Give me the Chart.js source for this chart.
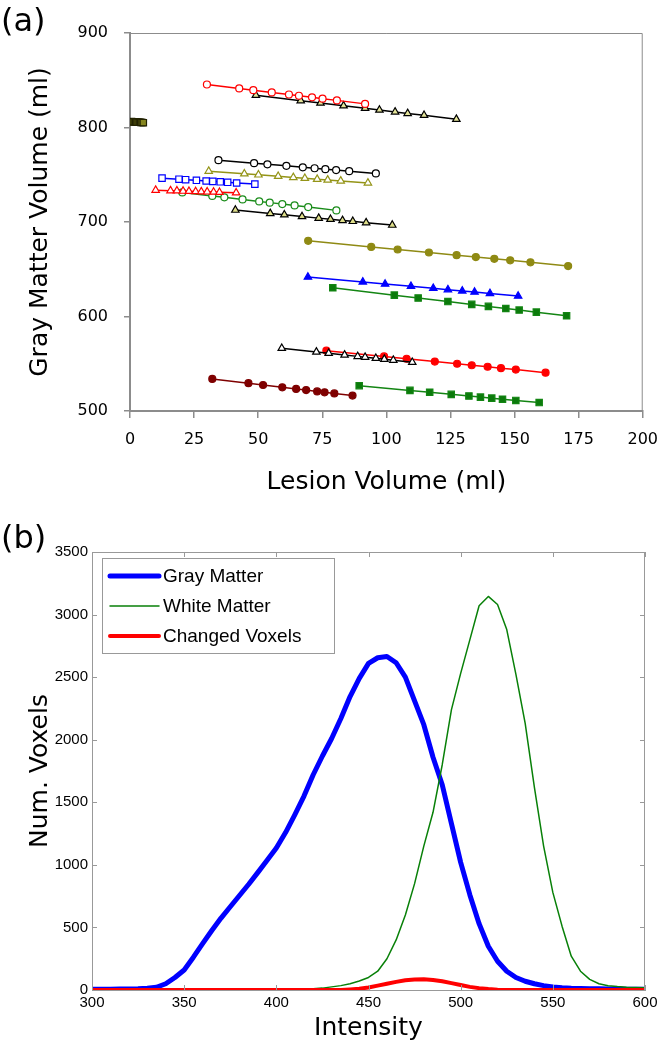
<!DOCTYPE html>
<html>
<head>
<meta charset="utf-8">
<script src="https://cdn.jsdelivr.net/npm/chart.js@4.4.0/dist/chart.umd.min.js"></script>
<style>
  html, body { margin: 0; padding: 0; background: #fff; }
  #wrapA { position: absolute; left: 0; top: 0; width: 670px; height: 520px; }
  #wrapB { position: absolute; left: 0; top: 520px; width: 670px; height: 530px; }
</style>
</head>
<body>
<div id="wrapA"><canvas id="chartA" width="670" height="520"></canvas></div>
<div id="wrapB"><canvas id="chartB" width="670" height="530"></canvas></div>
<script>
// ---------- panel (a): gray matter volume vs lesion volume ----------
const lesionTicks = [0, 25, 50, 75, 100, 125, 150, 175, 200];
const gmTicks = [500, 600, 700, 800, 900];

const redOpenCircleX = [30, 42.6, 48.1, 55.3, 62, 65.9, 71, 75.1, 80.7, 91.7];
const redOpenCircleY = [845.5, 841.3, 839.5, 837.1, 834.9, 833.6, 831.9, 830.5, 828.7, 825];
const blackTriTopX = [49.1, 66.6, 74.3, 83.3, 91.7, 97.3, 103.4, 108.3, 114.7, 127.3];
const blackTriTopY = [834.1, 828.4, 825.9, 823.0, 820.3, 818.5, 816.5, 814.9, 812.9, 808.8];
const oliveSquareX = [0.6, 1.2, 1.7, 2.2, 2.7, 3.2, 3.7, 4.2, 4.7, 5.2];
const oliveSquareY = [806.2, 806.0, 805.9, 805.8, 805.7, 805.6, 805.5, 805.4, 805.3, 805.1];
const blackOpenCircleX = [34.5, 48.4, 53.6, 61.0, 67.4, 72.0, 76.2, 80.4, 85.5, 95.9];
const blackOpenCircleY = [765.4, 762.2, 761.0, 759.4, 757.9, 756.9, 755.9, 754.9, 753.8, 751.4];
const oliveOpenTriX = [30.7, 44.6, 50.1, 57.8, 63.7, 68.2, 73.0, 77.1, 82.2, 92.8];
const oliveOpenTriY = [753.8, 751.0, 749.9, 748.4, 747.2, 746.3, 745.3, 744.5, 743.5, 741.4];
const blueOpenSquareX = [12.5, 19.1, 21.7, 25.9, 29.7, 32.3, 35.2, 38.1, 41.6, 48.7];
const blueOpenSquareY = [746.4, 745.3, 744.8, 744.1, 743.4, 743.0, 742.5, 742.0, 741.3, 740.1];
const redOpenTriX = [10.0, 15.8, 18.3, 20.7, 23.0, 25.6, 27.8, 30.1, 32.6, 34.9, 41.4];
const redOpenTriY = [733.7, 733.2, 733.0, 732.7, 732.5, 732.3, 732.1, 731.9, 731.7, 731.5, 730.9];
const greenOpenCircleX = [20.4, 32.1, 36.8, 43.9, 50.4, 54.5, 59.4, 64.2, 69.5, 80.5];
const greenOpenCircleY = [731.3, 727.6, 726.1, 723.9, 721.8, 720.5, 719.0, 717.5, 715.8, 712.3];
const blackTriMidX = [41.1, 54.7, 60.2, 67.1, 73.6, 78.2, 82.9, 86.9, 92.1, 102.3];
const blackTriMidY = [712.6, 709.1, 707.6, 705.8, 704.1, 702.9, 701.7, 700.7, 699.3, 696.7];
const oliveCircleX = [69.5, 94.1, 104.4, 116.6, 127.4, 134.9, 142.1, 148.3, 156.2, 170.9];
const oliveCircleY = [680.1, 673.6, 670.9, 667.7, 664.9, 662.9, 661.0, 659.4, 657.3, 653.4];
const blueTriX = [69.4, 90.8, 99.5, 109.6, 118.3, 124.0, 129.6, 134.4, 140.4, 151.4];
const blueTriY = [641.8, 636.6, 634.4, 631.9, 629.8, 628.4, 627.1, 625.9, 624.4, 621.7];
const greenSquareTopX = [79.1, 103.1, 112.4, 124.0, 133.3, 139.8, 146.6, 151.8, 158.5, 170.3];
const greenSquareTopY = [630.4, 622.6, 619.6, 615.8, 612.8, 610.7, 608.5, 606.8, 604.6, 600.8];
const blackTriLowX = [59.2, 72.7, 77.5, 83.7, 88.8, 91.7, 95.9, 99.2, 102.7, 110.1];
const blackTriLowY = [566.4, 562.5, 561.1, 559.3, 557.8, 557.0, 555.8, 554.8, 553.8, 551.6];
const redCircleX = [76.6, 99.1, 107.9, 118.9, 127.6, 133.3, 139.5, 144.7, 150.5, 162.1];
const redCircleY = [563.8, 557.7, 555.3, 552.3, 550.0, 548.4, 546.8, 545.3, 543.8, 540.6];
const greenSquareLowX = [89.4, 109.2, 116.9, 125.3, 132.2, 136.7, 141.1, 145.3, 150.5, 159.6];
const greenSquareLowY = [526.8, 521.8, 519.8, 517.6, 515.9, 514.7, 513.6, 512.5, 511.2, 508.9];
const maroonCircleX = [32.1, 46.2, 51.9, 59.4, 64.8, 68.7, 73.0, 75.9, 79.7, 86.8];
const maroonCircleY = [533.9, 529.4, 527.5, 525.1, 523.4, 522.1, 520.7, 519.8, 518.6, 516.3];

// ---------- panel (b): intensity histograms ----------
const intensity = [300, 305, 310, 315, 320, 325, 330, 335, 340, 345,
  350, 355, 360, 365, 370, 375, 380, 385, 390, 395,
  400, 405, 410, 415, 420, 425, 430, 435, 440, 445,
  450, 455, 460, 465, 470, 475, 480, 485, 490, 495,
  500, 505, 510, 515, 520, 525, 530, 535, 540, 545,
  550, 555, 560, 565, 570, 575, 580, 585, 590, 595, 600];
const grayMatter = [5, 5, 6, 8, 8, 10, 15, 22, 50, 100,
  160, 262, 370, 475, 575, 665, 755, 845, 940, 1037,
  1135, 1258, 1400, 1550, 1720, 1870, 2010, 2170, 2345, 2490,
  2610, 2655, 2665, 2615, 2500, 2310, 2120, 1860, 1640, 1330,
  1020, 760, 530, 350, 230, 150, 100, 70, 50, 35,
  25, 18, 14, 12, 10, 9, 8, 7, 6, 5, 5];
const whiteMatter = [0, 0, 0, 0, 0, 0, 0, 0, 0, 0,
  0, 0, 0, 0, 0, 0, 0, 0, 0, 0,
  3, 4, 5, 7, 10, 15, 25, 35, 50, 72,
  100, 150, 250, 400, 600, 850, 1150, 1420, 1800, 2240,
  2530, 2800, 3070, 3145, 3080, 2880, 2520, 2130, 1620, 1150,
  780, 510, 270, 150, 85, 50, 34, 27, 22, 19, 17];
const changedVoxels = [0, 0, 0, 0, 0, 0, 0, 0, 0, 0,
  0, 0, 0, 0, 0, 0, 0, 0, 0, 0,
  0, 0, 0, 0, 0, 0, 0, 0, 5, 10,
  20, 35, 50, 65, 78, 83, 85, 80, 70, 55,
  40, 25, 15, 8, 3, 0, 0, 0, 0, 0,
  0, 0, 0, 0, 0, 0, 0, 0, 0, 0, 0];
const voxelTicks = [0, 500, 1000, 1500, 2000, 2500, 3000, 3500];
const intensityTicks = [300, 350, 400, 450, 500, 550, 600];

// frame (top/right box), inward ticks and the (a)/(b) label
const framePlugin = {
  id: 'frame',
  afterDraw(chart, args, o) {
    const { ctx, chartArea: a } = chart;
    ctx.save();
    ctx.strokeStyle = o.color;
    ctx.lineWidth = o.width;
    ctx.beginPath();
    ctx.moveTo(a.left, a.top + 0.5);
    ctx.lineTo(a.right - 0.5, a.top + 0.5);
    ctx.lineTo(a.right - 0.5, a.bottom);
    ctx.stroke();
    if (o.inwardTicks) {
      const xs = chart.scales.x, ys = chart.scales.y, L = 5;
      ctx.lineWidth = 1;
      ctx.beginPath();
      xs.ticks.forEach(t => {
        const p = Math.round(xs.getPixelForValue(t.value)) + 0.5;
        ctx.moveTo(p, a.bottom); ctx.lineTo(p, a.bottom - L);
        ctx.moveTo(p, a.top); ctx.lineTo(p, a.top + L);
      });
      ys.ticks.forEach(t => {
        const p = Math.round(ys.getPixelForValue(t.value)) + 0.5;
        ctx.moveTo(a.left, p); ctx.lineTo(a.left + L, p);
        ctx.moveTo(a.right, p); ctx.lineTo(a.right - L, p);
      });
      ctx.stroke();
    }
    ctx.fillStyle = '#000';
    ctx.font = '32px "DejaVu Sans"';
    ctx.textBaseline = 'alphabetic';
    ctx.fillText(o.label, o.labelX, o.labelY);
    ctx.restore();
  }
};

// legend box inside the plot area of panel (b)
const legendBoxPlugin = {
  id: 'legendBox',
  afterDraw(chart) {
    const { ctx, chartArea: a } = chart;
    const x0 = a.left + 10, y0 = a.top + 6;
    ctx.save();
    ctx.fillStyle = '#fff';
    ctx.fillRect(x0, y0, 232, 95);
    ctx.strokeStyle = '#999';
    ctx.lineWidth = 1;
    ctx.strokeRect(x0 + 0.5, y0 + 0.5, 232, 95);
    chart.data.datasets.forEach((ds, i) => {
      const y = y0 + 18 + i * 30;
      ctx.strokeStyle = ds.borderColor;
      ctx.lineWidth = ds.borderWidth;
      ctx.lineCap = 'round';
      ctx.beginPath(); ctx.moveTo(x0 + 8, y); ctx.lineTo(x0 + 57, y); ctx.stroke();
      ctx.fillStyle = '#000';
      ctx.font = '19px "Liberation Sans"';
      ctx.textBaseline = 'middle';
      ctx.fillText(ds.label, x0 + 61, y + 1);
    });
    ctx.restore();
  }
};

function pairs(xs, ys) { return xs.map((v, i) => ({ x: v, y: ys[i] })); }

const seriesA = [
  { x: redOpenCircleX, y: redOpenCircleY, line: '#ff0000', edge: '#ff0000', fill: '#ffffff', shape: 'circle' },
  { x: blackTriTopX, y: blackTriTopY, line: '#000000', edge: '#000000', fill: '#e4e49a', shape: 'triangle' },
  { x: oliveSquareX, y: oliveSquareY, line: '#4d4d10', edge: '#222200', fill: '#85851f', shape: 'rect' },
  { x: blackOpenCircleX, y: blackOpenCircleY, line: '#000000', edge: '#000000', fill: '#ffffff', shape: 'circle' },
  { x: oliveOpenTriX, y: oliveOpenTriY, line: '#949417', edge: '#949417', fill: '#ffffff', shape: 'triangle' },
  { x: blueOpenSquareX, y: blueOpenSquareY, line: '#0000ff', edge: '#0000ff', fill: '#ffffff', shape: 'rect' },
  { x: redOpenTriX, y: redOpenTriY, line: '#ff0000', edge: '#ff0000', fill: '#ffffff', shape: 'triangle' },
  { x: greenOpenCircleX, y: greenOpenCircleY, line: '#1a8c1a', edge: '#1a8c1a', fill: '#ffffff', shape: 'circle' },
  { x: blackTriMidX, y: blackTriMidY, line: '#000000', edge: '#000000', fill: '#dede8a', shape: 'triangle' },
  { x: oliveCircleX, y: oliveCircleY, line: '#8f8a14', edge: '#8f8a14', fill: '#8f8a14', shape: 'circle' },
  { x: blueTriX, y: blueTriY, line: '#0000ff', edge: '#0000ff', fill: '#0000ff', shape: 'triangle' },
  { x: greenSquareTopX, y: greenSquareTopY, line: '#138513', edge: '#138513', fill: '#0b7a0b', shape: 'rect' },
  { x: blackTriLowX, y: blackTriLowY, line: '#000000', edge: '#000000', fill: '#ffffff', shape: 'triangle' },
  { x: redCircleX, y: redCircleY, line: '#ff0000', edge: '#ff0000', fill: '#ff0000', shape: 'circle' },
  { x: greenSquareLowX, y: greenSquareLowY, line: '#138513', edge: '#138513', fill: '#0b7a0b', shape: 'rect' },
  { x: maroonCircleX, y: maroonCircleY, line: '#7f0000', edge: '#7f0000', fill: '#7f0000', shape: 'circle' }
];

const radiusFor = { circle: 3.5, triangle: 4.3, rect: 4.5 };
const plainNumber = v => String(v);

new Chart(document.getElementById('chartA'), {
  type: 'scatter',
  data: {
    datasets: seriesA.map(s => ({
      data: pairs(s.x, s.y),
      showLine: true,
      borderColor: s.line,
      borderWidth: 1.5,
      pointStyle: s.shape,
      pointRadius: radiusFor[s.shape],
      pointBackgroundColor: s.fill,
      pointBorderColor: s.edge,
      pointBorderWidth: 1.2
    }))
  },
  options: {
    responsive: false,
    animation: false,
    layout: { padding: { left: 0, right: 24, top: 33, bottom: 0 } },
    plugins: {
      legend: { display: false },
      tooltip: { enabled: false },
      frame: { color: '#8c8c8c', width: 1, label: '(a)', labelX: 1, labelY: 31 }
    },
    scales: {
      x: {
        type: 'linear', min: 0, max: 200,
        afterBuildTicks: s => { s.ticks = lesionTicks.map(v => ({ value: v })); },
        afterFit: s => { s.height = 109; },
        ticks: { font: { family: 'DejaVu Sans', size: 16 }, color: '#000', padding: 12, maxRotation: 0, callback: plainNumber },
        grid: { display: true, drawOnChartArea: false, drawTicks: true, tickLength: 7, color: '#8c8c8c', lineWidth: 1.5 },
        border: { display: true, color: '#8c8c8c', width: 2 },
        title: { display: true, text: 'Lesion Volume (ml)', color: '#000',
                 font: { family: 'DejaVu Sans', size: 25 }, padding: { top: 0, bottom: 23 } }
      },
      y: {
        type: 'linear', min: 500, max: 900,
        afterBuildTicks: s => { s.ticks = gmTicks.map(v => ({ value: v })); },
        afterFit: s => { s.width = 130; },
        ticks: { font: { family: 'DejaVu Sans', size: 16 }, color: '#000', padding: 16, callback: plainNumber },
        grid: { display: true, drawOnChartArea: false, drawTicks: true, tickLength: 6, color: '#8c8c8c', lineWidth: 1.5 },
        border: { display: true, color: '#8c8c8c', width: 2 },
        title: { display: true, text: 'Gray Matter Volume (ml)', color: '#000',
                 font: { family: 'DejaVu Sans', size: 25 }, padding: { top: 25, bottom: 0 } }
      }
    }
  },
  plugins: [framePlugin]
});

new Chart(document.getElementById('chartB'), {
  type: 'scatter',
  data: {
    datasets: [
      { label: 'Gray Matter', data: pairs(intensity, grayMatter), borderColor: '#0000ff', borderWidth: 5, order: 3 },
      { label: 'White Matter', data: pairs(intensity, whiteMatter), borderColor: '#088008', borderWidth: 1.5, order: 2 },
      { label: 'Changed Voxels', data: pairs(intensity, changedVoxels), borderColor: '#ff0000', borderWidth: 4, order: 1 }
    ].map(d => Object.assign(d, { showLine: true, pointRadius: 0, borderJoinStyle: 'round', tension: 0 }))
  },
  options: {
    responsive: false,
    animation: false,
    layout: { padding: { left: 0, right: 25, top: 32, bottom: 0 } },
    plugins: {
      legend: { display: false },
      tooltip: { enabled: false },
      frame: { color: '#999999', width: 1, inwardTicks: true, label: '(b)', labelX: 1, labelY: 28 }
    },
    scales: {
      x: {
        type: 'linear', min: 300, max: 600,
        afterBuildTicks: s => { s.ticks = intensityTicks.map(v => ({ value: v })); },
        afterFit: s => { s.height = 60; },
        ticks: { font: { family: 'Liberation Sans', size: 15 }, color: '#000', padding: 4, maxRotation: 0, callback: plainNumber },
        grid: { display: false, drawTicks: false },
        border: { display: true, color: '#999999', width: 1 },
        title: { display: true, text: 'Intensity', color: '#000',
                 font: { family: 'DejaVu Sans', size: 25 }, padding: { top: 0, bottom: 7 } }
      },
      y: {
        type: 'linear', min: 0, max: 3500,
        afterBuildTicks: s => { s.ticks = voxelTicks.map(v => ({ value: v })); },
        afterFit: s => { s.width = 92; },
        ticks: { font: { family: 'Liberation Sans', size: 15 }, color: '#000', padding: 4, callback: plainNumber },
        grid: { display: false, drawTicks: false },
        border: { display: true, color: '#999999', width: 1 },
        title: { display: true, text: 'Num. Voxels', color: '#000',
                 font: { family: 'DejaVu Sans', size: 25 }, padding: { top: 25, bottom: 0 } }
      }
    }
  },
  plugins: [framePlugin, legendBoxPlugin]
});
</script>
</body>
</html>
